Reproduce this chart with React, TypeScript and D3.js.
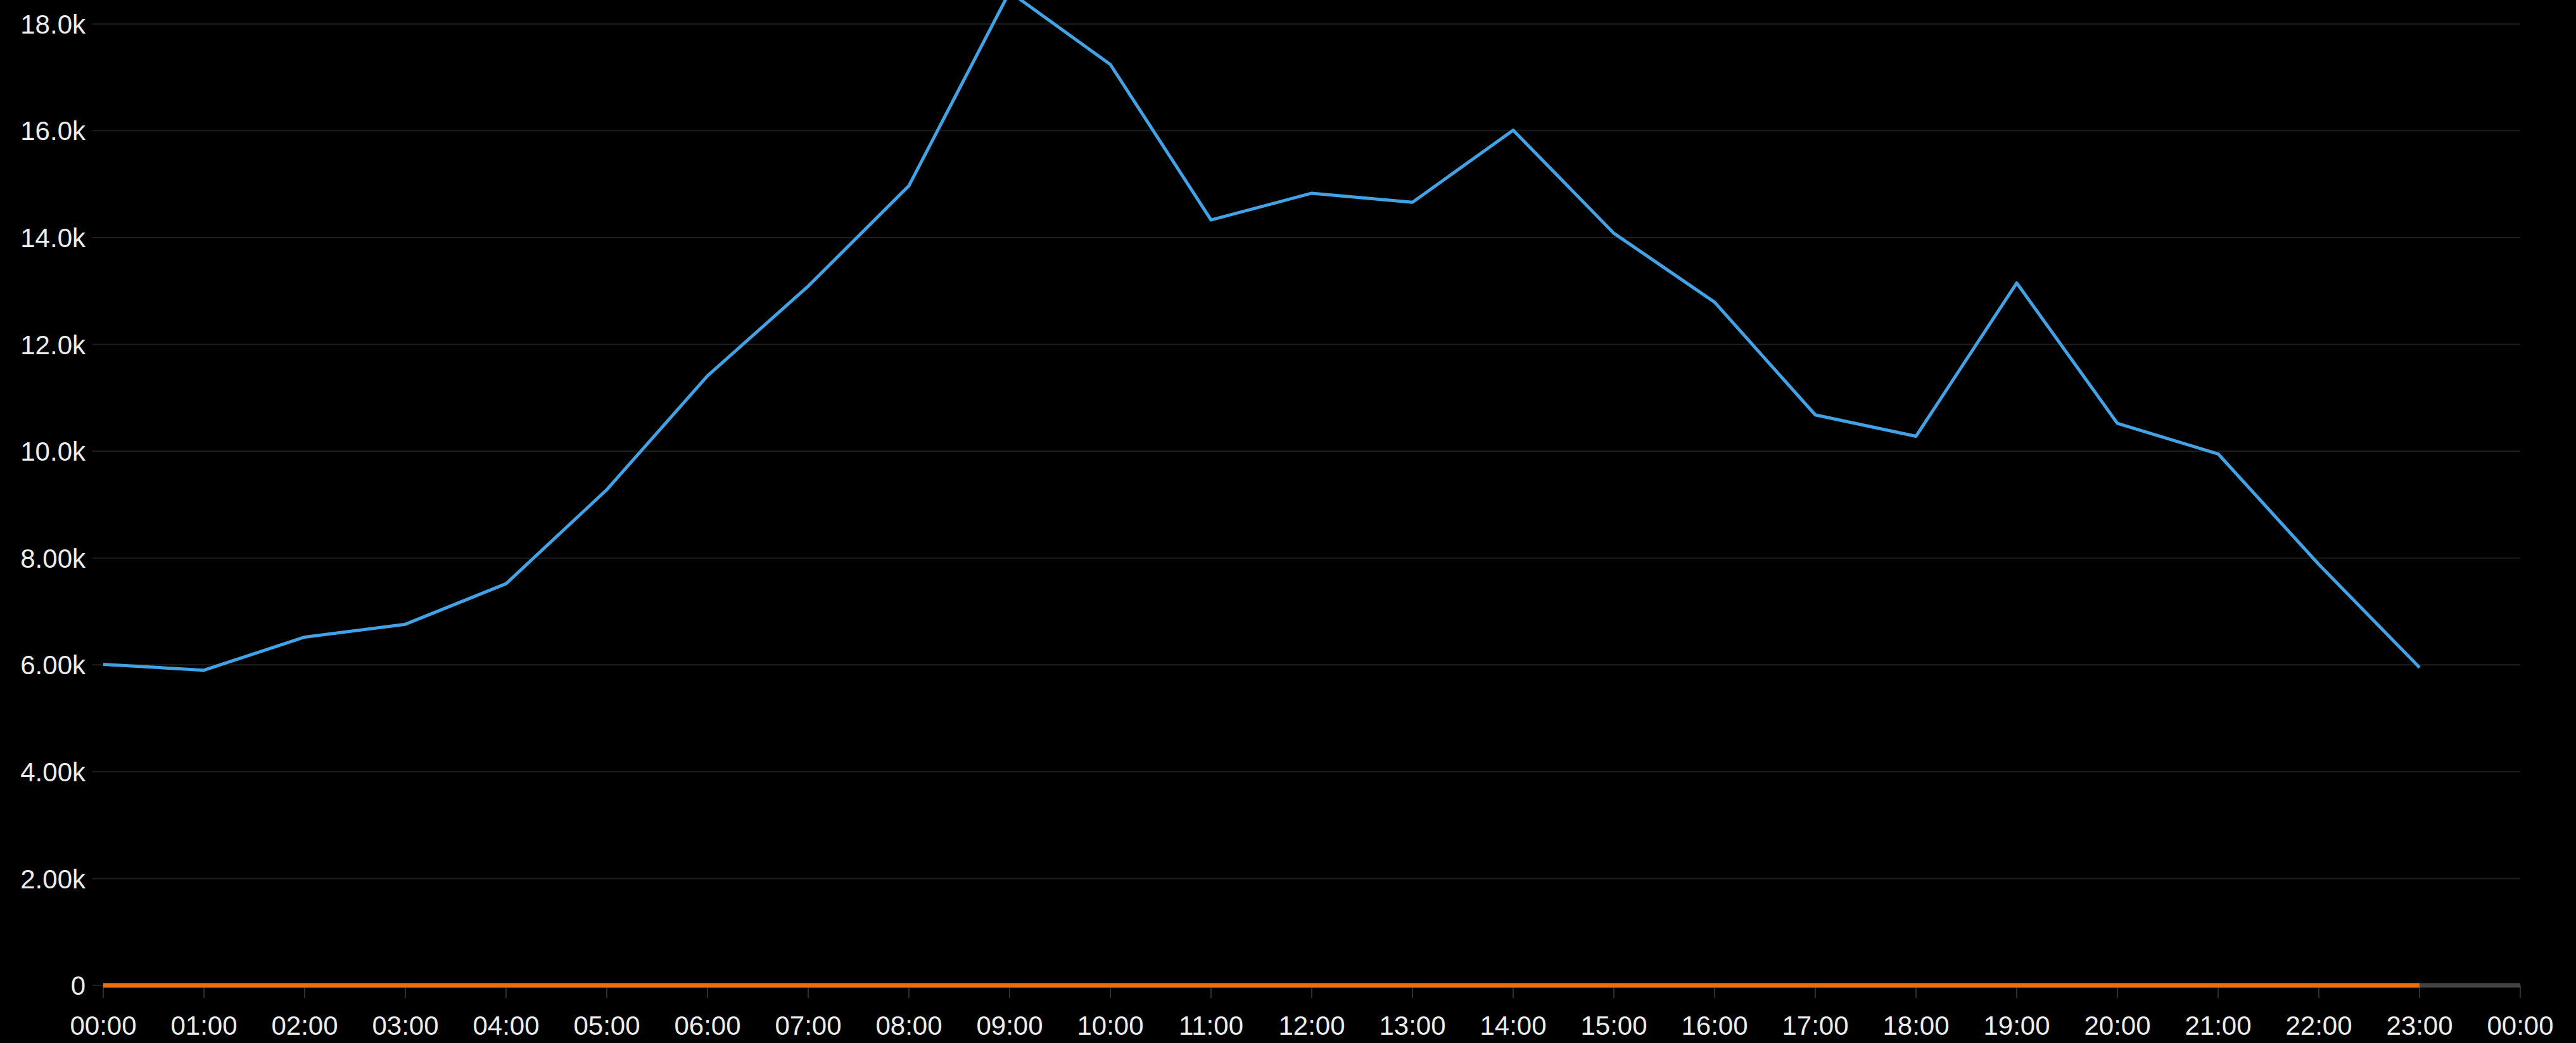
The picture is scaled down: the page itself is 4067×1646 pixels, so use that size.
import React from "react";
import * as d3 from "d3";

const hours: number[] = Array.from({ length: 24 }, (_, i) => i);
const trafficValues: number[] = [
  6010, 5900, 6520, 6760, 7520, 9280, 11410, 13090, 14970, 18600, 17240, 14330,
  14830, 14660, 16010, 14080, 12790, 10680, 10280, 13150, 10520, 9950, 7880, 5950,
];
const errorValues: number[] = [
  0, 0, 0, 0, 0, 0, 0, 0, 0, 0, 0, 0, 0, 0, 0, 0, 0, 0, 0, 0, 0, 0, 0, 0,
];
const yTicks: number[] = [0, 2000, 4000, 6000, 8000, 10000, 12000, 14000, 16000, 18000];
const yTickLabels: string[] = ["0", "2.00k", "4.00k", "6.00k", "8.00k", "10.0k", "12.0k", "14.0k", "16.0k", "18.0k"];
const xTicks: number[] = Array.from({ length: 25 }, (_, i) => i);
const xTickLabels: string[] = [
  "00:00", "01:00", "02:00", "03:00", "04:00", "05:00", "06:00", "07:00", "08:00", "09:00",
  "10:00", "11:00", "12:00", "13:00", "14:00", "15:00", "16:00", "17:00", "18:00", "19:00",
  "20:00", "21:00", "22:00", "23:00", "00:00",
];

const W = 4067;
const H = 1646;
const FONT = "'Liberation Sans', Arial, Helvetica, sans-serif";

export default function App() {
  const x = d3.scaleLinear().domain([0, 24]).range([163, 3979]);
  const y = d3.scaleLinear().domain([0, 18000]).range([1555, 37.7]);

  const line = d3
    .line<[number, number]>()
    .x((d) => x(d[0]))
    .y((d) => y(d[1]));

  const blue = line(hours.map((h, i) => [h, trafficValues[i]] as [number, number])) || "";
  const orange = line(hours.map((h, i) => [h, errorValues[i]] as [number, number])) || "";

  return (
    <svg
      width={W}
      height={H}
      style={{ position: "absolute", left: 0, top: 0, background: "#000", display: "block" }}
    >
      <rect x={0} y={0} width={W} height={H} fill="#000" />
      {yTicks.map((t, i) => (
        <g key={"y" + t}>
          <line x1={146} x2={x(24)} y1={y(t)} y2={y(t)} stroke="#1f1f1f" strokeWidth={2} />
          <text
            x={135}
            y={y(t)}
            dy="0.36em"
            textAnchor="end"
            fill="#ececec"
            fontFamily={FONT}
            fontSize={42}
          >
            {yTickLabels[i]}
          </text>
        </g>
      ))}
      {xTicks.map((t, i) => (
        <g key={"x" + i}>
          <line x1={x(t)} x2={x(t)} y1={y(0)} y2={y(0) + 20} stroke="#2e2e2e" strokeWidth={2} />
          <text
            x={x(t)}
            y={1633}
            textAnchor="middle"
            fill="#ececec"
            fontFamily={FONT}
            fontSize={42}
          >
            {xTickLabels[i]}
          </text>
        </g>
      ))}
      <line x1={x(0)} x2={x(24)} y1={y(0)} y2={y(0)} stroke="#444" strokeWidth={7} />
      <path d={orange} fill="none" stroke="#ec6f0c" strokeWidth={7} />
      <path d={blue} fill="none" stroke="#41a3e6" strokeWidth={5} strokeLinejoin="round" />
    </svg>
  );
}
